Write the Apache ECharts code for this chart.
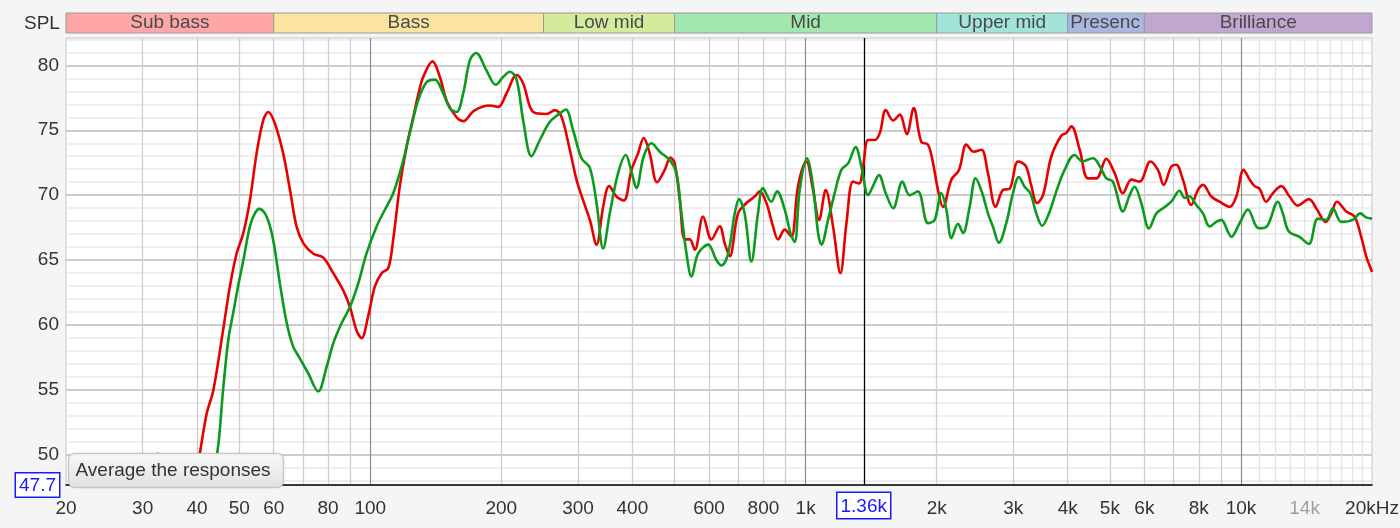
<!DOCTYPE html>
<html><head><meta charset="utf-8">
<script src="https://cdn.jsdelivr.net/npm/echarts@6/dist/echarts.min.js"></script>
<style>html,body{margin:0;padding:0;background:#f5f5f5}#c{width:1400px;height:528px}</style>
</head><body><div id="c"></div>
<script>
// ---------------- data ----------------
const redFreq = [20,25,29,31.5,32.5,33.8,36,38.5,40.6,42.1,43.6,45.9,47.6,49.3,51.1,52.9,54.8,56.8,58.3,60.4,63.1,65.4,67.7,70.2,74,78,82.2,86.6,89.8,93,95.5,98.9,102.5,106.2,110,112.9,116.9,121.1,125.5,129,132.3,139,144.5,150,157.8,163.5,173,188.2,196.7,205.6,216.8,224.5,236.7,254,265.5,274.9,287.3,297.6,308.3,319.4,330.9,342.7,353.7,367.6,382.2,398,412,424.7,438.5,455.8,474.6,489.2,500.4,514,527.7,541.9,556.4,581.4,607.7,634.9,651.9,669.4,699.4,731.2,763.9,784.5,812.7,841.7,864.2,895.3,927.4,960.5,1004,1040,1074,1112,1156,1202,1241,1285,1327,1355,1392,1442,1481,1528,1589,1645,1708,1771,1844,1910,1961,2014,2068,2162,2251,2341,2432,2534,2623,2732,2839,2943,3075,3203,3301,3400,3510,3669,3868,3971,4078,4262,4452,4654,4906,5127,5358,5601,5852,6192,6446,6643,6918,7101,7356,7689,7962,8180,8549,8933,9419,9757,10140,10470,10745,11033,11426,11835,12374,12927,13508,14322,14893,15645,16122,16608,17451,18237,18890,19397,19918,20000];
const redSpl = [40.5,42,44,47.3,50.1,47.2,45,45.8,50.15,53.2,55.0,59.6,63.0,65.5,67.1,69.6,73.2,75.8,76.4,75.5,73.2,70.4,67.6,66.3,65.5,65.2,64.0,62.7,61.4,59.6,59.0,60.7,63.0,64.0,64.4,66.6,70.7,73.7,76.0,77.8,79.1,80.3,79.1,77.2,76.0,75.7,76.5,76.9,76.8,77.85,79.25,78.6,76.4,76.25,76.55,76.05,73.5,71.2,69.6,68.1,66.2,69.1,70.7,69.9,69.6,71.95,73.2,74.4,73.2,71.0,71.95,72.9,72.45,69.6,66.6,66.6,65.8,68.35,66.6,67.6,66.3,65.3,68.6,69.4,69.9,70.3,69.4,67.6,66.6,67.35,66.8,70.7,72.6,70.4,68.1,70.4,67.6,64.0,67.85,71.05,70.9,72.2,74.25,74.25,74.8,76.55,75.75,76.2,74.7,76.7,74.1,73.9,72.5,70.4,69.1,71.2,71.95,73.9,73.35,73.5,71.7,69.1,70.4,70.5,72.6,72.25,70.7,69.4,70.0,73.0,74.6,74.8,75.3,73.5,71.3,71.3,72.8,71.7,70.15,71.2,71.05,72.6,71.95,70.8,72.2,72.35,71.2,69.25,70.4,70.8,69.9,69.5,69.1,69.9,71.95,71.2,70.7,70.5,69.5,70.15,70.7,69.9,69.2,69.7,69.0,67.95,68.6,69.5,68.75,68.35,66.8,65.3,64.25,64.1];

const greenFreq = [20,30,38,42.6,44.5,45.9,47.2,48.4,49.7,51.1,52.9,54.3,55.6,57.8,59.8,62,64.3,66.5,68.9,72,75.9,79.4,82.2,85.9,89.8,93.8,98,103.4,108.1,112.9,118,123.3,128.8,134.7,140.7,147,152.3,157.8,163.5,169.4,175,184.9,194.2,201.9,209.3,216.8,224.5,234.6,245.2,258.5,272.5,281.2,292.3,305.6,319.4,330.9,342.7,354.9,370.9,386.3,398,408.6,424.7,442.5,462.3,487.5,505,518.6,532.6,546.7,566.2,597,624.1,640.8,663.6,687.4,703.1,724.4,750.6,777.3,797.9,834.3,859.7,895.3,922.5,943.7,969,1007,1040,1068,1087,1126,1166,1208,1252,1303,1343,1392,1428,1474,1528,1589,1668,1734,1811,1910,1979,2050,2105,2162,2239,2299,2381,2458,2546,2623,2692,2779,2890,2994,3090,3184,3282,3387,3496,3622,3766,3935,4147,4320,4571,4718,4906,5080,5358,5549,5697,5902,6146,6392,6620,6918,7226,7423,7620,7896,8180,8472,8777,9013,9334,9504,9931,10374,10842,11133,11530,12155,12481,12883,13631,14322,15020,15700,16261,16995,18072,18793,19397,20000];
const greenSpl = [37,40,43,47.7,50.15,55.0,58.9,60.9,63.0,65.0,67.6,68.6,68.95,68.35,66.6,63.2,60.15,58.35,57.45,56.3,54.9,56.8,58.6,60.15,61.4,63.2,65.5,67.6,68.9,70.15,72.2,74.8,77.3,78.7,78.9,77.85,76.7,76.4,77.85,80.4,80.95,79.6,78.5,79.1,79.5,78.9,75.75,73.0,74.25,75.65,76.3,76.6,75.0,72.85,72.1,69.4,65.9,68.6,71.7,73.1,71.8,70.55,73.0,74.0,73.35,72.7,71.7,68.6,65.5,63.75,65.5,66.2,65.0,64.6,65.5,68.6,69.7,68.6,64.9,68.6,70.55,69.5,70.3,68.9,67.1,66.4,70.4,72.85,70.7,67.1,66.2,68.1,70.15,71.95,72.45,73.7,72.2,70.0,70.7,71.55,70.15,69.0,71.05,70.0,70.3,67.85,68.1,70.15,68.9,66.7,67.8,67.1,69.1,71.3,70.15,68.6,67.6,66.35,67.85,70.15,71.4,70.65,70.15,68.6,67.65,68.6,70.3,71.95,73.1,72.6,72.85,72.35,71.3,71.05,68.75,70.0,70.65,69.4,67.45,68.6,69.0,69.5,70.35,69.8,69.9,69.25,68.6,67.6,67.95,68.1,67.2,66.8,67.85,68.9,67.6,67.45,67.7,69.5,68.6,67.2,66.8,66.25,68.2,68.1,69.0,67.95,68.1,68.6,68.3,68.2];

const bandNames  = ['Sub bass','Bass','Low mid','Mid','Upper mid','Presence','Brilliance'];
const bandEdges  = [20,60,250,500,2000,4000,6000,20000];
const bandColors = ['#ffa6a8','#fae4a0','#d4eb9e','#a0e8ad','#a2e3da','#a8b8e0','#c0a7d0'];

const xTickValues = [20,30,40,50,60,80,100,200,300,400,600,800,1000,2000,3000,4000,5000,6000,8000,10000,14000,20000];
const xTickLabels = ['20','30','40','50','60','80','100','200','300','400','600','800','1k','2k','3k','4k','5k','6k','8k','10k','14k','20kHz'];
const xGridFreqs  = [30,40,50,60,70,80,90,200,300,400,500,600,700,800,900,2000,3000,4000,5000,6000,7000,8000,9000];
const xDecadeFreqs = [100,1000,10000];
const xFaintFreqs = [11000,12000,13000,14000,15000,16000,17000,18000,19000];
const cursorFreq = 1360, cursorLabel = '1.36k';

const yMin = 47.7, yMax = 82.1;
const yTickValues = [50,55,60,65,70,75,80];
const yGridValues = [48,49,50,51,52,53,54,55,56,57,58,59,60,61,62,63,64,65,66,67,68,69,70,71,72,73,74,75,76,77,78,79,80,81,82];

// ---------------- chart ----------------
const FONT = '"Liberation Sans", Arial, sans-serif';
const zip = (a, b) => a.map((v, i) => [v, b[i]]);
const solid = (color, width) => ({color, width, type: 'solid'});

const gridLines = [];
yGridValues.forEach(v => gridLines.push({yAxis: v, lineStyle: solid(v % 5 === 0 ? '#cdcdcd' : '#e8e8e8', v % 5 === 0 ? 2 : 1.5)}));
xFaintFreqs.forEach(f => gridLines.push({xAxis: f, lineStyle: solid('#e4e4e4', 1.3)}));
xGridFreqs.forEach(f => gridLines.push({xAxis: f, lineStyle: solid('#cfcfcf', 1.3)}));
xDecadeFreqs.forEach(f => gridLines.push({xAxis: f, lineStyle: solid('#8c8c8c', 1.2)}));

const labelLines = xTickValues.map((f, i) => ({
  xAxis: f,
  label: {formatter: xTickLabels[i], color: f === 14000 ? '#a0a0a0' : '#333'}
}));

const option = {
  animation: false,
  backgroundColor: '#f5f5f5',
  grid: [
    {left: 66, right: 28, top: 38, bottom: 43, show: true, backgroundColor: '#fff', borderColor: '#c4c4c4', borderWidth: 1},
    {left: 66, right: 28, top: 13, height: 20, show: false}
  ],
  xAxis: [
    {type: 'log', logBase: 10, min: 20, max: 20000, gridIndex: 0, z: 6,
     axisLine: {show: true, onZero: false, lineStyle: {color: '#000', width: 1.5}},
     axisTick: {show: false}, axisLabel: {show: false}, splitLine: {show: false}, minorSplitLine: {show: false}},
    {type: 'log', logBase: 10, min: 20, max: 20000, gridIndex: 1, show: false}
  ],
  yAxis: [
    {type: 'value', min: yMin, max: yMax, gridIndex: 0,
     axisLine: {show: false}, axisTick: {show: false}, splitLine: {show: false},
     axisLabel: {
       customValues: [yMin].concat(yTickValues),
       margin: 7, fontSize: 19, fontFamily: FONT, color: '#333',
       formatter: v => Math.abs(v - yMin) < 1e-6 ? '{b|' + yMin.toFixed(1) + '}' : String(v),
       rich: {b: {color: '#1a1aff', borderColor: '#1a1aff', borderWidth: 1.5, padding: [3, 3, 1, 3],
                  backgroundColor: '#fff', fontSize: 19, fontFamily: FONT}}
     }},
    {type: 'value', min: 0, max: 1, gridIndex: 1, show: false}
  ],
  series: [
    {type: 'line', name: 'grid', data: [], z: 1, silent: true,
     markLine: {z: 1, silent: true, symbol: ['none', 'none'], animation: false, label: {show: false}, data: gridLines}},
    {type: 'line', name: 'cursor', data: [], z: 2, silent: true,
     markLine: {z: 2, silent: true, symbol: ['none', 'none'], animation: false,
       data: [{xAxis: cursorFreq, lineStyle: solid('#000', 1.3),
               label: {show: true, position: 'start', distance: 8, formatter: cursorLabel, color: '#1a1aff',
                       fontSize: 19, fontFamily: FONT, borderColor: '#1a1aff', borderWidth: 1.5,
                       padding: [4, 3, 2, 3], backgroundColor: '#fff'}}]}},
    {type: 'line', name: 'red', data: zip(redFreq, redSpl), z: 3, smooth: 0.35, showSymbol: false, clip: true,
     lineStyle: {color: '#e60000', width: 2.6}, itemStyle: {color: '#e60000'}},
    {type: 'line', name: 'green', data: zip(greenFreq, greenSpl), z: 4, smooth: 0.35, showSymbol: false, clip: true,
     lineStyle: {color: '#0a9a1e', width: 2.6}, itemStyle: {color: '#0a9a1e'}},
    {type: 'line', name: 'labels', data: [], z: 5, silent: true,
     markLine: {z: 5, silent: true, symbol: ['none', 'none'], animation: false,
       lineStyle: {color: 'rgba(0,0,0,0)', width: 1, type: 'solid'},
       label: {show: true, position: 'start', distance: 14, fontSize: 19, fontFamily: FONT},
       data: labelLines}},
    {type: 'line', name: 'bands', xAxisIndex: 1, yAxisIndex: 1, data: [], silent: true,
     markArea: {silent: true,
       label: {show: true, position: 'inside', color: '#4a4a4a', fontSize: 19, fontFamily: FONT, padding: [5, 0, 0, 0]},
       itemStyle: {borderColor: '#9a9a9a', borderWidth: 1},
       data: bandNames.map((n, i) => [
         {name: n, xAxis: bandEdges[i], itemStyle: {color: bandColors[i], borderColor: '#9a9a9a', borderWidth: 1},
          label: n === 'Presence' ? {width: 74, overflow: 'truncate', ellipsis: '', align: 'left', position: 'insideLeft', distance: 3} : {}},
         {xAxis: bandEdges[i + 1]}
       ])}}
  ],
  graphic: [
    {type: 'text', left: 24, top: 14, style: {text: 'SPL', fontSize: 19, fontFamily: FONT, fill: '#333'}},
    {type: 'group', left: 68, top: 453, z: 100, children: [
      {type: 'rect', z: 100, shape: {x: 0, y: 0, width: 215, height: 34, r: 6},
       style: {fill: {type: 'linear', x: 0, y: 0, x2: 0, y2: 1, colorStops: [{offset: 0, color: '#f8f8f8'}, {offset: 1, color: '#e2e2e2'}]},
               stroke: '#c6c6c6', lineWidth: 1, shadowBlur: 2, shadowColor: 'rgba(0,0,0,0.15)'}},
      {type: 'text', z: 101, x: 7, y: 8, style: {text: 'Average the responses', fontSize: 19, fontFamily: FONT, fill: '#333'}}
    ]}
  ]
};
const chart = echarts.init(document.getElementById('c'), null, {renderer: 'canvas'});
chart.setOption(option);
</script></body></html>
